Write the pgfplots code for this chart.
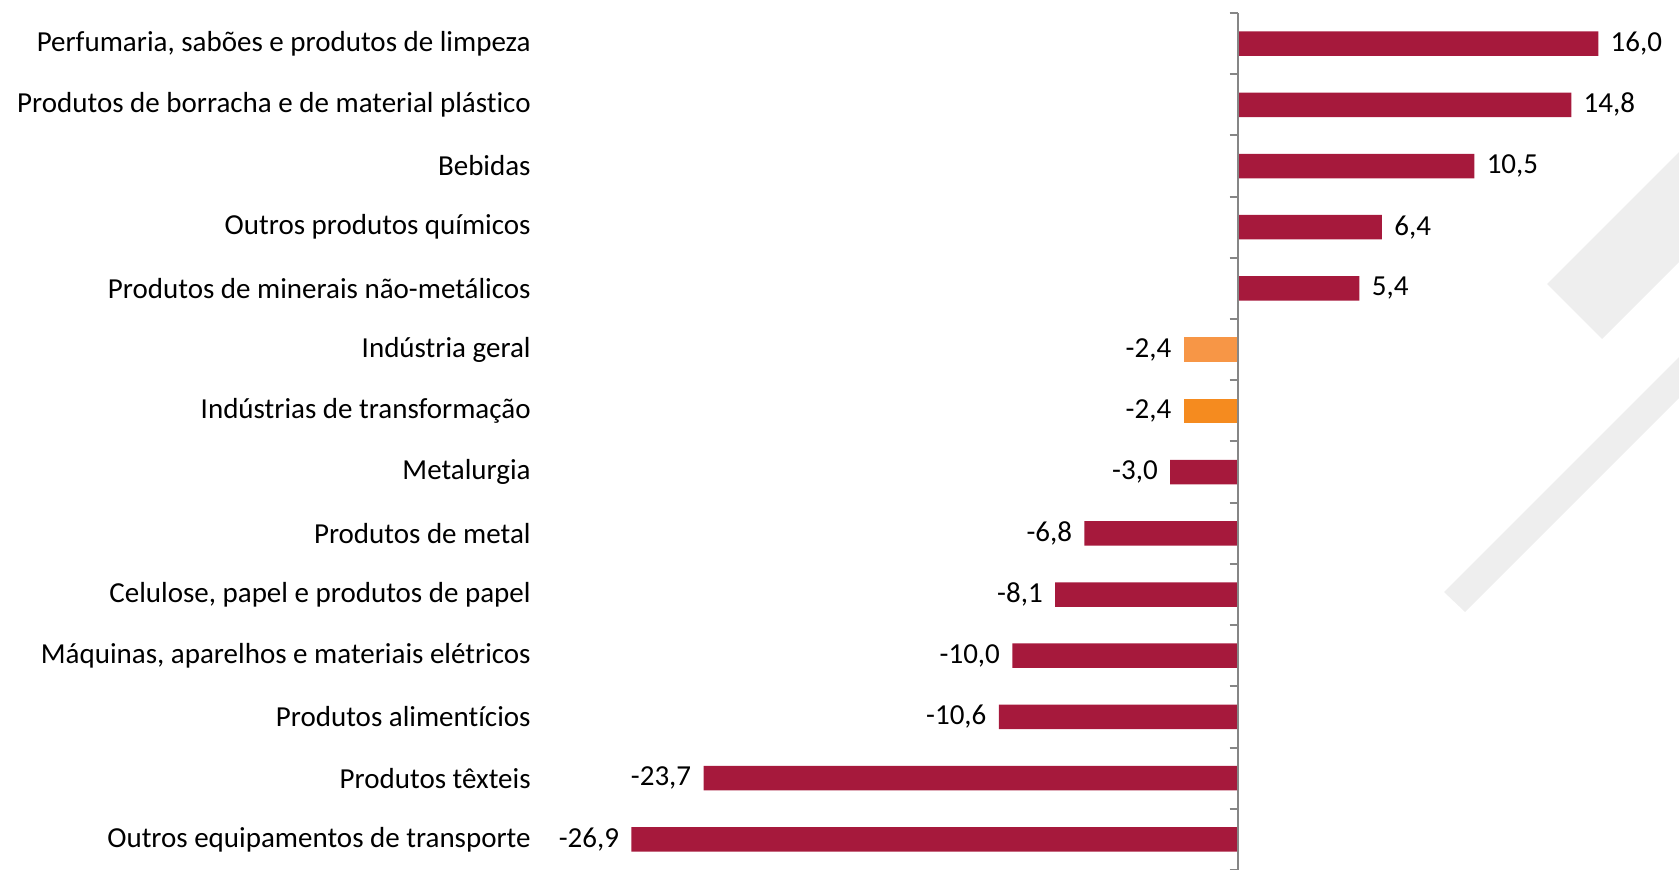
\documentclass[border=0pt]{standalone}
\usepackage{fontspec}
\setmainfont{Carlito}[Ligatures={NoCommon}]
\usepackage{pgfplots}
\pgfplotsset{compat=1.18}
\definecolor{barred}{RGB}{166,25,60}
\definecolor{orangeA}{RGB}{247,150,70}
\definecolor{orangeB}{RGB}{245,139,31}
\definecolor{wm}{RGB}{238,238,238}
\definecolor{axgray}{RGB}{134,134,134}
\begin{document}
\begin{tikzpicture}[x=0.5pt,y=0.5pt]
\path[use as bounding box] (0,0) rectangle (1679,870);
% decorative watermark stripes
\fill[wm] (1547,586) -- (1679,718) -- (1679,608) -- (1602,531) -- cycle;
\fill[wm] (1444,278) -- (1679,513) -- (1679,472) -- (1465,258) -- cycle;
\begin{axis}[
  at={(269.5pt,0pt)}, anchor=south west,
  scale only axis, width=569.1pt, height=428.5pt,
  xmin=-31, xmax=19.5, ymin=-0.5, ymax=13.5,
  xbar, bar width=0.4,
  axis x line=none, axis y line=left,
  y axis line style={draw=none,-},
  ytick={0,...,13},
  ytick style={draw=none},
  major tick length=0pt,
  yticklabels={Outros equipamentos de transporte,Produtos têxteis,Produtos alimentícios,{Máquinas, aparelhos e materiais elétricos},{Celulose, papel e produtos de papel},Produtos de metal,Metalurgia,Indústrias de transformação,Indústria geral,Produtos de minerais não-metálicos,Outros produtos químicos,Bebidas,Produtos de borracha e de material plástico,{Perfumaria, sabões e produtos de limpeza}},
  yticklabel style={font=\fontsize{14.5}{17}\selectfont, text=black, inner xsep=4pt},
  point meta=x,
  nodes near coords={\pgfmathprintnumber[fixed,fixed zerofill,precision=1,use comma,assume math mode=true]{\pgfplotspointmeta}},
  nodes near coords align=horizontal,
  every node near coord/.append style={font=\fontsize{14.5}{17}\selectfont, text=black, inner xsep=6pt},
  clip=false,
]
\addplot[fill=barred, draw=none, bar shift=0pt] coordinates {(-26.9,0) (-23.7,1) (-10.6,2) (-10.0,3) (-8.1,4) (-6.8,5) (-3.0,6) (5.4,9) (6.4,10) (10.5,11) (14.8,12) (16.0,13)};
\addplot[fill=orangeB, draw=none, bar shift=0pt] coordinates {(-2.4,7)};
\addplot[fill=orangeA, draw=none, bar shift=0pt] coordinates {(-2.4,8)};
\draw[axgray, line width=1pt] (axis cs:0,-0.5) -- (axis cs:0,13.5);
\pgfplotsinvokeforeach{-0.5,0.5,1.5,2.5,3.5,4.5,5.5,6.5,7.5,8.5,9.5,10.5,11.5,12.5,13.5}{
  \draw[axgray, line width=1pt] ([xshift=-4pt]axis cs:0,#1) -- (axis cs:0,#1);
}
\end{axis}
\end{tikzpicture}
\end{document}
